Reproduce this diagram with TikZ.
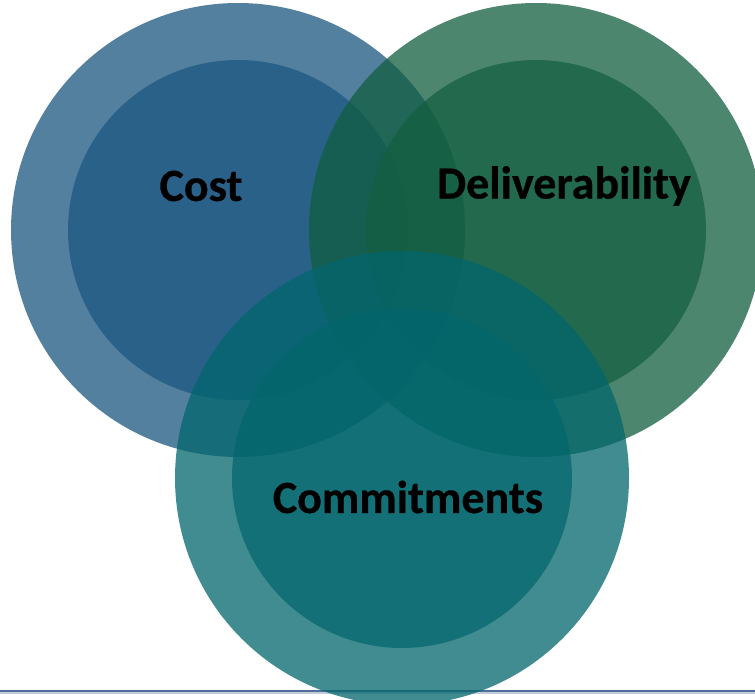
\documentclass[tikz,border=0pt]{standalone}
\usepackage{fontspec}
\usepackage{xcolor}
\setmainfont{Carlito}[BoldFeatures={FakeBold=0.6}]
\definecolor{costblue}{RGB}{26,86,128}
\definecolor{delivgreen}{RGB}{18,94,64}
\definecolor{committeal}{RGB}{2,102,108}
\definecolor{rulecol}{RGB}{80,112,154}
\tikzset{
	outerdisk/.style={circle, inner sep=0pt, minimum size=454pt, fill=#1, fill opacity=0.75},
	innerdisk/.style={circle, inner sep=0pt, minimum size=340pt, fill=#1, fill opacity=0.72},
	lbl/.style={font=\fontsize{46}{46}\selectfont\bfseries, text=black}
}

\begin{document}
\begin{tikzpicture}[x=1pt, y=-1pt]
		\useasboundingbox[fill=white](0,0) rectangle (755,700);
		\coordinate (ruleL) at (0,690.5);
		\coordinate (ruleR) at (755,690.5);
		\draw[rulecol, line width=2pt](ruleL)--(ruleR);
		\draw[rulecol!35, line width=1.2pt]([yshift=-2.5pt]ruleL)--([yshift=-2.5pt]ruleR);
		\node[outerdisk=costblue](costout) at (238,230){};
		\node[innerdisk=costblue](costin) at (costout.center){};
		\node[outerdisk=delivgreen](delivout) at (536,230){};
		\node[innerdisk=delivgreen](delivin) at (delivout.center){};
		\node[outerdisk=committeal](commitout) at (402,478){};
		\node[innerdisk=committeal](commitin) at (commitout.center){};
		\node[lbl](cost) at (201,186){Cost};
		\node[lbl](deliv) at (564,186){Deliverability};
		\node[lbl](commit) at (408,497){Commitments};
\end{tikzpicture}
\end{document}
